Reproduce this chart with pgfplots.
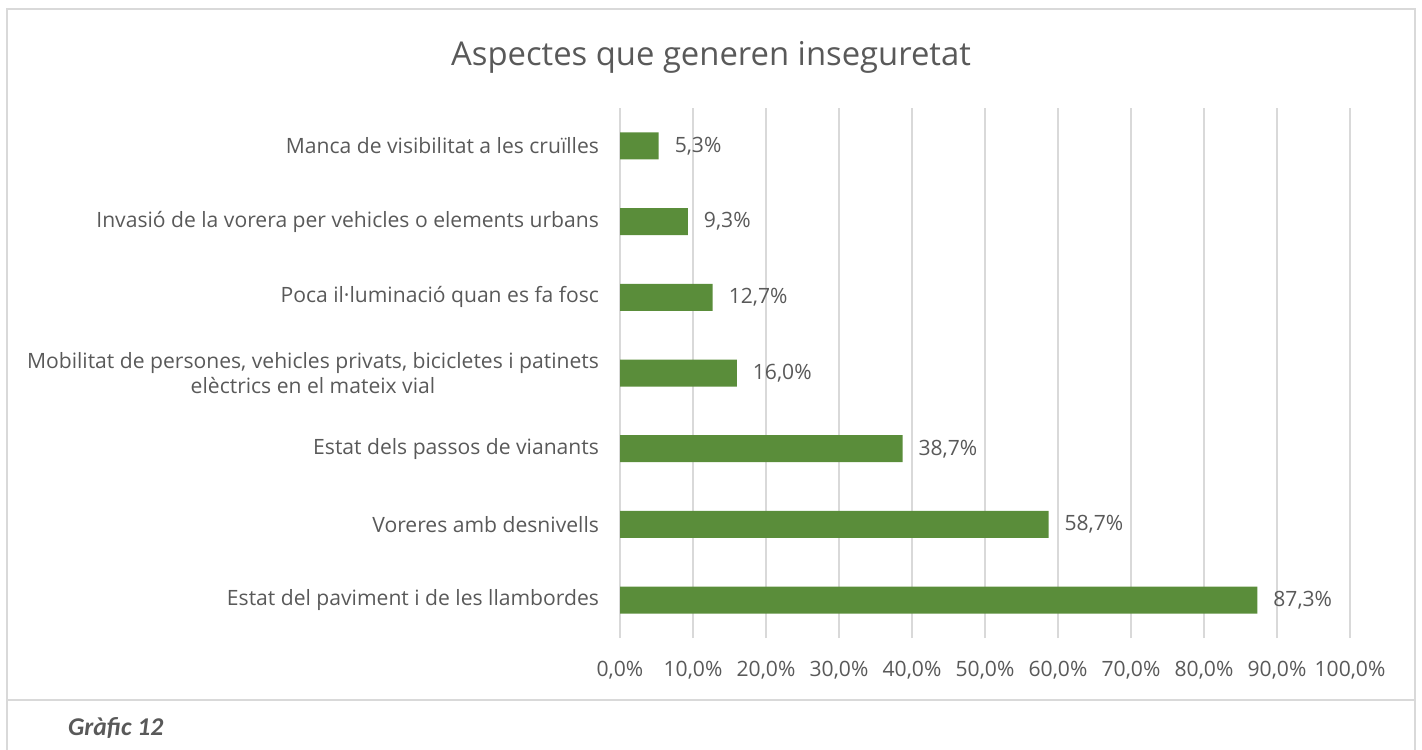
\documentclass[border=0pt]{standalone}
\usepackage{pgfplots}
\pgfplotsset{compat=1.18}
\usepackage{fontspec}
\setmainfont{Open Sans}
\newfontfamily\capfont{Carlito}
\definecolor{barg}{HTML}{5A8D3A}
\definecolor{txt}{HTML}{595959}
\definecolor{gridc}{HTML}{D9D9D9}
\begin{document}
\begin{tikzpicture}
% frame, in image pixels (y down)
\begin{scope}[x=0.5pt,y=-0.5pt]
\path[use as bounding box] (0,0) rectangle (1422,749);
\draw[gridc, line width=1pt] (6.5,760) -- (6.5,9.5) -- (1415,9.5) -- (1415,760);
\draw[gridc, line width=1pt] (6.5,700) -- (1415,700);
\node[text=txt, font=\fontsize{16.4}{19}\selectfont] at (711,57) {Aspectes que generen inseguretat};
\node[text=txt, font=\capfont\fontsize{12.8}{14}\selectfont\bfseries\itshape, anchor=west] at (61,728) {Gràfic 12};
\end{scope}

\begin{axis}[
  at={(310pt,-319pt)}, anchor=south west,
  scale only axis,
  width=365pt, height=265pt,
  xbar, bar width=13.5pt,
  xmin=0, xmax=100, ymin=-0.5, ymax=6.5,
  xtick={0,10,...,100},
  ytick={0,...,6},
  yticklabels={Estat del paviment i de les llambordes,
    Voreres amb desnivells,
    Estat dels passos de vianants,
    {Mobilitat de persones, vehicles privats, bicicletes i patinets\\elèctrics en el mateix vial},
    Poca il·luminació quan es fa fosc,
    Invasió de la vorera per vehicles o elements urbans,
    Manca de visibilitat a les cruïlles},
  /pgf/number format/assume math mode=true,
  xticklabel={\pgfmathprintnumber[fixed,fixed zerofill,precision=1,use comma]{\tick}\%},
  yticklabel style={align=center, font=\fontsize{10.55}{12.5}\selectfont, text=txt, xshift=-7pt},
  xticklabel style={font=\fontsize{10.55}{12.5}\selectfont, text=txt, yshift=-8pt},
  major tick length=0pt,
  axis line style={draw=none},
  xmajorgrids, grid style={gridc, line width=0.75pt},
  nodes near coords={\pgfmathprintnumber[fixed,fixed zerofill,precision=1,use comma]{\pgfplotspointmeta}\%},
  nodes near coords style={font=\fontsize{10.55}{12.5}\selectfont, text=txt, anchor=west, xshift=4.5pt},
  point meta=x,
  clip=false,
]
\addplot[fill=barg, draw=none] coordinates {
  (87.3,0) (58.7,1) (38.7,2) (16.0,3) (12.7,4) (9.3,5) (5.3,6)};
\end{axis}
\end{tikzpicture}
\end{document}
